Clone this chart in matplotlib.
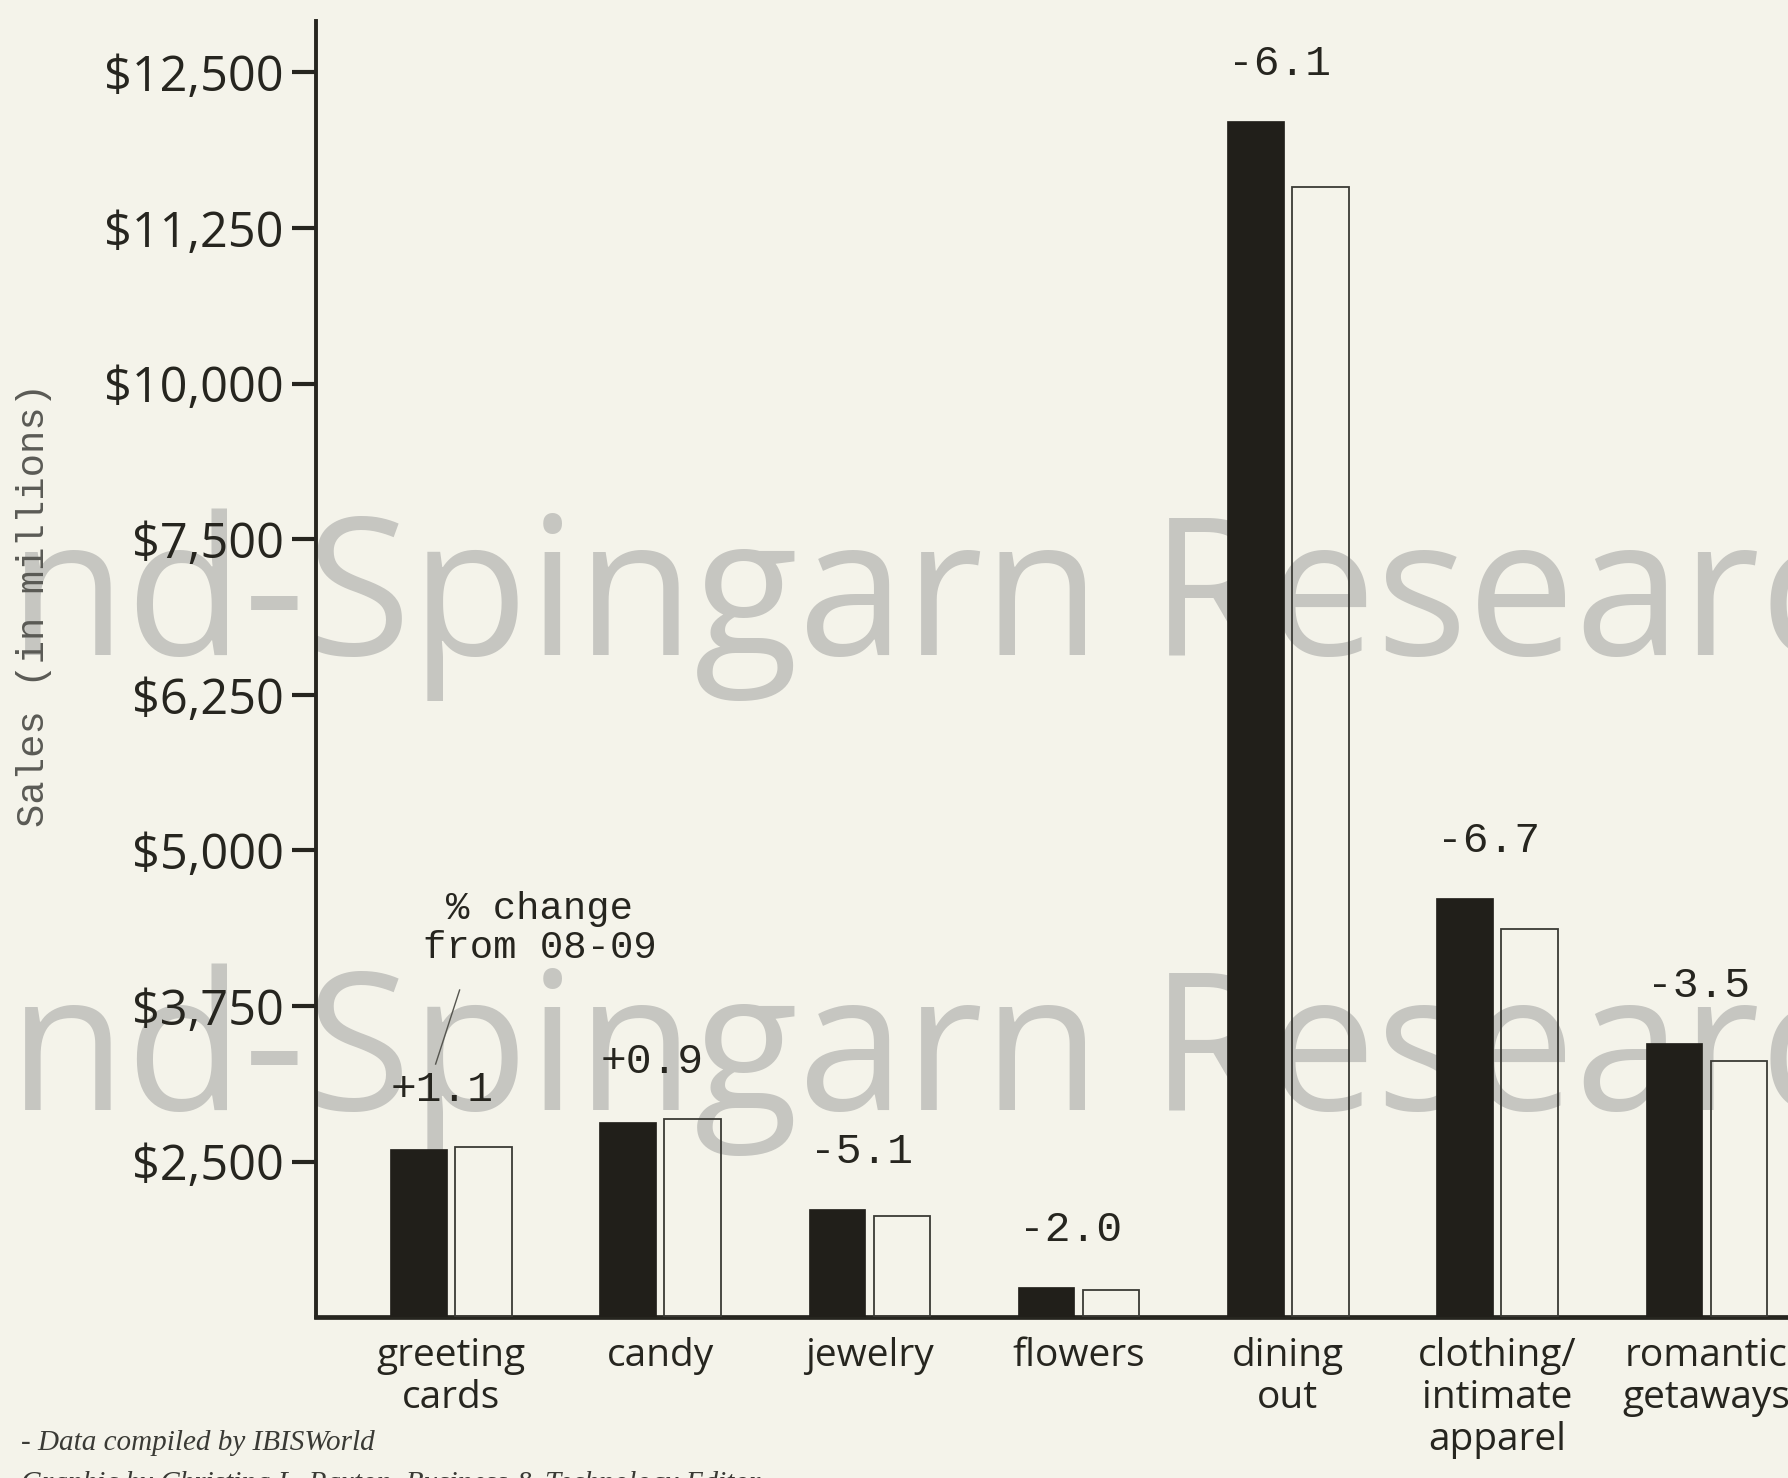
import numpy as np
import matplotlib
matplotlib.use("Agg")
import matplotlib.pyplot as plt

# Valentine's Day spending, 2008 (black) vs 2009 (white), $ millions
categories = ["greeting\ncards", "candy", "jewelry", "flowers",
              "dining\nout", "clothing/\nintimate\napparel", "romantic\ngetaways"]
sales_2008 = [2600, 2820, 1740, 480, 12110, 4620, 3450]
sales_2009 = [2620, 2845, 1630, 430, 11580, 4365, 3310]
pct_change = ["+1.1", "+0.9", "-5.1", "-2.0", "-6.1", "-6.7", "-3.5"]

ytick_values = [2500, 3750, 5000, 6250, 7500, 10000, 11250, 12500]
ytick_labels = ["$2,500", "$3,750", "$5,000", "$6,250", "$7,500",
                "$10,000", "$11,250", "$12,500"]

# the printed axis is evenly spaced between uneven tick values
scale_vals = np.array([0] + ytick_values + [13750], dtype=float)
scale_pos = np.arange(len(scale_vals), dtype=float)


def fwd(v):
    return np.interp(v, scale_vals, scale_pos)


def inv(p):
    return np.interp(p, scale_pos, scale_vals)


paper = "#f4f3ea"
ink = "#26251f"

fig = plt.figure(figsize=(17.88, 14.78), dpi=100, facecolor=paper)

# watermark text behind everything
wm = dict(fontsize=138, color="#c6c6c1", family="Open Sans", zorder=-1)
for yy in (0.557, 0.249):
    fig.text(0.171, yy, "Spingarn Research", ha="left", va="baseline", **wm)
    fig.text(0.171, yy, "Hand-", ha="right", va="baseline", **wm)

ax = fig.add_axes([0.1767, 0.1088, 0.8233, 0.877])
ax.set_facecolor("none")
ax.set_yscale("function", functions=(fwd, inv))

x = np.arange(len(categories))
w = 0.27
ax.bar(x - 0.155, sales_2008, w, color="#211f1a", edgecolor="#211f1a", linewidth=0.5, zorder=3)
ax.bar(x + 0.155, sales_2009, w, facecolor="none", edgecolor="#3a3a35", linewidth=1.3, zorder=3)

for i, lab in enumerate(pct_change):
    top = max(sales_2008[i], sales_2009[i])
    ax.annotate(lab, (x[i] - 0.04, top), xytext=(0, 41), textcoords="offset points",
                ha="center", va="center", fontsize=31, family="Liberation Mono",
                color=ink, zorder=4)

# note with leader line
ax.text(0.152, 0.300, "% change\nfrom 08-09", transform=ax.transAxes, ha="center",
        va="center", fontsize=28, family="Liberation Mono", color=ink,
        linespacing=1.1, zorder=4)
ax.plot([0.0976, 0.0813], [0.2524, 0.1953], transform=ax.transAxes,
        color="#55554f", linewidth=1.0, zorder=4)

ax.set_xlim(-0.645, 6.39)
ax.set_ylim(0, inv(8.33))

ax.set_yticks(ytick_values)
ax.set_yticklabels(ytick_labels)
ax.yaxis.set_minor_locator(matplotlib.ticker.NullLocator())
ax.tick_params(axis="y", direction="out", length=17, width=3, color=ink,
               labelsize=35, labelcolor=ink, pad=6)
for t in ax.get_yticklabels():
    t.set_family("Open Sans")

ax.set_xticks(x)
ax.set_xticklabels(categories, family="Open Sans", fontsize=28, color=ink,
                   linespacing=1.15)
ax.tick_params(axis="x", length=0, pad=14)

for s in ("top", "right"):
    ax.spines[s].set_visible(False)
ax.spines["left"].set_linewidth(2.8)
ax.spines["left"].set_color(ink)
ax.spines["bottom"].set_linewidth(3.4)
ax.spines["bottom"].set_color(ink)

fig.text(0.019, 0.591, "Sales (in millions)", rotation=90, ha="center", va="center",
         fontsize=28, family="Liberation Mono", color="#5a5a55")

fig.text(0.012, 0.024, "- Data compiled by IBISWorld", ha="left", va="center",
         fontsize=21, family="Liberation Serif", style="italic", color="#3a3a35")
fig.text(0.012, -0.004, "Graphic by Christina L. Paxton, Business & Technology Editor",
         ha="left", va="center", fontsize=21, family="Liberation Serif",
         style="italic", color="#3a3a35")

fig.savefig("out.png", dpi=100, facecolor=paper)
